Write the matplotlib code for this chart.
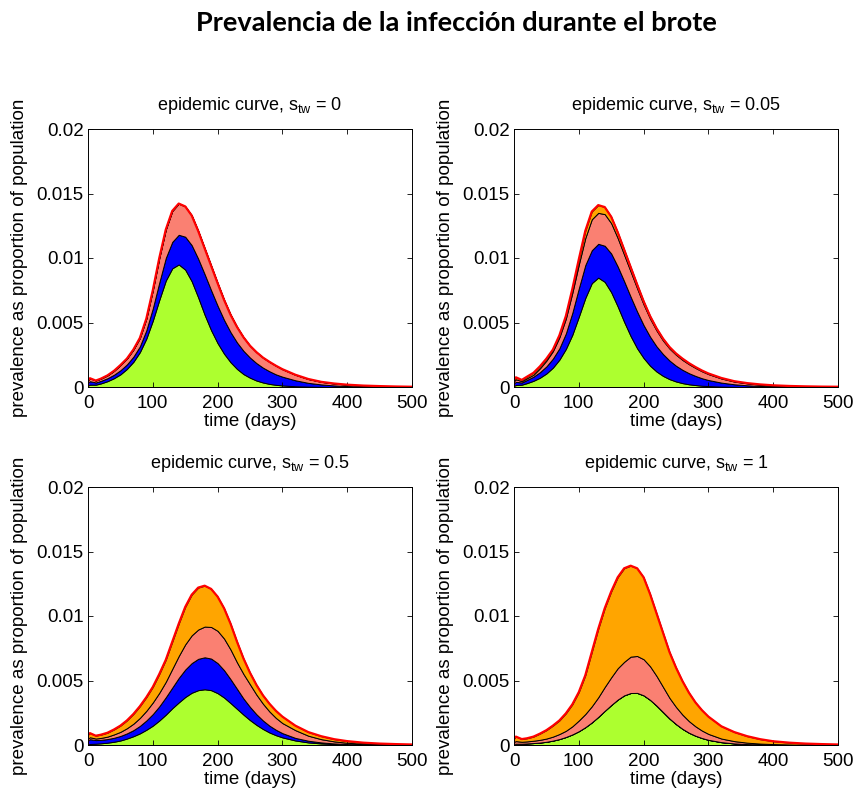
import numpy as np
import matplotlib
matplotlib.use('Agg')
from matplotlib import pyplot as plt

plt.rcParams['font.family'] = ['Liberation Sans', 'DejaVu Sans']
plt.rcParams['mathtext.default'] = 'regular'

# time axis (days)
t = [0, 3, 12, 20, 30, 40, 50, 60, 70, 80, 90, 100, 110, 120, 130, 140, 150, 160,
     170, 180, 190, 200, 210, 220, 230, 240, 250, 260, 270, 280, 290, 300, 320, 340,
     360, 380, 400, 425, 450, 475, 500]

# cumulative layer tops, s_tw = 0
green_0 = [0.00012, 0.00018, 0.00018, 0.00028, 0.00045, 0.00068, 0.00098, 0.00140, 0.00195, 0.00270,
           0.00375, 0.00515, 0.00675, 0.00825, 0.00920, 0.00950, 0.00910, 0.00820, 0.00695, 0.00560,
           0.00440, 0.00340, 0.00258, 0.00192, 0.00140, 0.00100, 0.00072, 0.00050, 0.00035, 0.00024,
           0.00017, 0.00012, 0.00006, 0.00003, 0.00001, 0.0, 0.0, 0.0, 0.0, 0.0, 0.0]
blue_0 = [0.00035, 0.00045, 0.00035, 0.00048, 0.00068, 0.00095, 0.00130, 0.00175, 0.00235, 0.00315,
          0.00440, 0.00610, 0.00810, 0.01000, 0.01125, 0.01180, 0.01165, 0.01100, 0.00995, 0.00875,
          0.00750, 0.00630, 0.00520, 0.00425, 0.00345, 0.00280, 0.00228, 0.00185, 0.00150, 0.00122,
          0.00098, 0.00080, 0.00052, 0.00032, 0.00020, 0.00012, 0.00007, 0.00004, 0.00002, 0.00001, 0.0]
salmon_0 = [0.00050, 0.00068, 0.00050, 0.00065, 0.00090, 0.00125, 0.00170, 0.00220, 0.00290, 0.00380,
            0.00530, 0.00750, 0.01000, 0.01220, 0.01365, 0.01422, 0.01400, 0.01330, 0.01210, 0.01075,
            0.00940, 0.00805, 0.00675, 0.00560, 0.00465, 0.00385, 0.00320, 0.00270, 0.00228, 0.00195,
            0.00165, 0.00138, 0.00095, 0.00062, 0.00040, 0.00027, 0.00018, 0.00011, 0.00007, 0.00004, 0.00002]
orange_0 = salmon_0

# s_tw = 0.05
green_1 = [0.00010, 0.00015, 0.00018, 0.00030, 0.00048, 0.00072, 0.00105, 0.00150, 0.00212, 0.00295,
           0.00405, 0.00545, 0.00690, 0.00805, 0.00848, 0.00815, 0.00735, 0.00625, 0.00505, 0.00395,
           0.00300, 0.00225, 0.00165, 0.00120, 0.00086, 0.00061, 0.00043, 0.00030, 0.00021, 0.00015,
           0.00010, 0.00007, 0.00003, 0.00001, 0.0, 0.0, 0.0, 0.0, 0.0, 0.0, 0.0]
blue_1 = [0.00030, 0.00040, 0.00035, 0.00055, 0.00080, 0.00115, 0.00160, 0.00220, 0.00300, 0.00415,
          0.00575, 0.00765, 0.00945, 0.01060, 0.01110, 0.01095, 0.01035, 0.00935, 0.00820, 0.00700,
          0.00585, 0.00480, 0.00390, 0.00315, 0.00255, 0.00205, 0.00165, 0.00133, 0.00107, 0.00086,
          0.00068, 0.00054, 0.00034, 0.00021, 0.00013, 0.00008, 0.00005, 0.00003, 0.00001, 0.0, 0.0]
salmon_1 = [0.00045, 0.00060, 0.00045, 0.00068, 0.00095, 0.00145, 0.00205, 0.00278, 0.00385, 0.00530,
            0.00730, 0.00950, 0.01155, 0.01300, 0.01350, 0.01340, 0.01270, 0.01155, 0.01025, 0.00895,
            0.00765, 0.00640, 0.00530, 0.00438, 0.00360, 0.00298, 0.00250, 0.00210, 0.00177, 0.00148,
            0.00122, 0.00100, 0.00066, 0.00042, 0.00028, 0.00018, 0.00012, 0.00007, 0.00004, 0.00002, 0.00001]
orange_1 = [0.00055, 0.00075, 0.00055, 0.00080, 0.00110, 0.00160, 0.00220, 0.00290, 0.00400, 0.00550,
            0.00760, 0.00990, 0.01210, 0.01360, 0.01410, 0.01395, 0.01320, 0.01200, 0.01065, 0.00930,
            0.00795, 0.00665, 0.00550, 0.00455, 0.00375, 0.00310, 0.00260, 0.00220, 0.00185, 0.00155,
            0.00128, 0.00105, 0.00070, 0.00045, 0.00030, 0.00020, 0.00013, 0.00008, 0.00005, 0.00003, 0.00002]

# s_tw = 0.5
green_2 = [0.00005, 0.00008, 0.00010, 0.00013, 0.00018, 0.00025, 0.00035, 0.00050, 0.00068, 0.00090,
           0.00118, 0.00150, 0.00190, 0.00235, 0.00285, 0.00330, 0.00372, 0.00405, 0.00425, 0.00432,
           0.00425, 0.00402, 0.00368, 0.00325, 0.00280, 0.00235, 0.00193, 0.00156, 0.00124, 0.00097,
           0.00076, 0.00059, 0.00035, 0.00020, 0.00012, 0.00007, 0.00004, 0.00002, 0.00001, 0.0, 0.0]
blue_2 = [0.00035, 0.00045, 0.00038, 0.00040, 0.00046, 0.00056, 0.00070, 0.00090, 0.00115, 0.00148,
          0.00190, 0.00240, 0.00300, 0.00370, 0.00445, 0.00520, 0.00585, 0.00635, 0.00668, 0.00680,
          0.00670, 0.00635, 0.00580, 0.00510, 0.00435, 0.00360, 0.00295, 0.00238, 0.00190, 0.00150,
          0.00118, 0.00092, 0.00055, 0.00033, 0.00020, 0.00012, 0.00007, 0.00004, 0.00002, 0.00001, 0.0]
salmon_2 = [0.00050, 0.00060, 0.00050, 0.00055, 0.00065, 0.00082, 0.00102, 0.00130, 0.00165, 0.00210,
            0.00265, 0.00330, 0.00405, 0.00490, 0.00590, 0.00690, 0.00780, 0.00850, 0.00895, 0.00918,
            0.00915, 0.00885, 0.00825, 0.00740, 0.00640, 0.00550, 0.00470, 0.00390, 0.00320, 0.00260,
            0.00210, 0.00170, 0.00115, 0.00072, 0.00045, 0.00028, 0.00017, 0.00010, 0.00005, 0.00003, 0.00001]
orange_2 = [0.00080, 0.00092, 0.00072, 0.00080, 0.00095, 0.00120, 0.00150, 0.00190, 0.00240, 0.00300,
            0.00370, 0.00450, 0.00550, 0.00660, 0.00800, 0.00940, 0.01070, 0.01165, 0.01220, 0.01235,
            0.01210, 0.01150, 0.01060, 0.00940, 0.00800, 0.00670, 0.00560, 0.00465, 0.00385, 0.00320,
            0.00265, 0.00220, 0.00150, 0.00100, 0.00068, 0.00045, 0.00030, 0.00018, 0.00011, 0.00007, 0.00004]

# s_tw = 1
green_3 = [0.00008, 0.00010, 0.00010, 0.00012, 0.00015, 0.00019, 0.00025, 0.00034, 0.00046, 0.00062,
           0.00082, 0.00107, 0.00138, 0.00175, 0.00218, 0.00265, 0.00310, 0.00352, 0.00385, 0.00403,
           0.00404, 0.00385, 0.00350, 0.00305, 0.00255, 0.00205, 0.00162, 0.00125, 0.00095, 0.00072,
           0.00054, 0.00040, 0.00022, 0.00012, 0.00007, 0.00004, 0.00002, 0.00001, 0.0, 0.0, 0.0]
blue_3 = green_3
salmon_3 = [0.00025, 0.00030, 0.00025, 0.00028, 0.00033, 0.00040, 0.00050, 0.00065, 0.00085, 0.00110,
            0.00145, 0.00190, 0.00240, 0.00300, 0.00370, 0.00450, 0.00525, 0.00595, 0.00645, 0.00685,
            0.00690, 0.00665, 0.00610, 0.00535, 0.00450, 0.00365, 0.00295, 0.00235, 0.00185, 0.00145,
            0.00112, 0.00086, 0.00050, 0.00030, 0.00018, 0.00011, 0.00007, 0.00004, 0.00002, 0.00001, 0.0]
orange_3 = [0.00050, 0.00065, 0.00046, 0.00052, 0.00065, 0.00088, 0.00115, 0.00150, 0.00190, 0.00245,
            0.00315, 0.00410, 0.00540, 0.00720, 0.00900, 0.01060, 0.01190, 0.01300, 0.01370, 0.01390,
            0.01370, 0.01300, 0.01170, 0.01020, 0.00870, 0.00720, 0.00600, 0.00495, 0.00405, 0.00330,
            0.00270, 0.00220, 0.00145, 0.00100, 0.00068, 0.00045, 0.00029, 0.00018, 0.00011, 0.00007, 0.00004]

s_values = ['0', '0.05', '0.5', '1']
panels = [
    (green_0, blue_0, salmon_0, orange_0),
    (green_1, blue_1, salmon_1, orange_1),
    (green_2, blue_2, salmon_2, orange_2),
    (green_3, blue_3, salmon_3, orange_3),
]
layer_colors = ['#adff2f', '#0000ff', '#fa8072', '#ffa500']

W, H = 858, 791
fig = plt.figure(figsize=(W / 100, H / 100), dpi=100)

# axes boxes in pixels: left, top, right, bottom
boxes = [(88, 129, 412, 387), (514, 129, 838, 387),
         (88, 487, 412, 745), (514, 487, 838, 745)]

for box, layers, s in zip(boxes, panels, s_values):
    l, tp, r, b = box
    ax = fig.add_axes([l / W, 1 - b / H, (r - l) / W, (b - tp) / H])
    lower = np.zeros(len(t))
    for top, col in zip(layers, layer_colors):
        top = np.asarray(top)
        ax.fill_between(t, lower, top, facecolor=col, edgecolor='k', linewidth=0.7)
        lower = top
    ax.plot([0] + t, [0] + list(layers[-1]), color='r', linewidth=1.6)

    ax.set_xlim(0, 500)
    ax.set_ylim(0, 0.02)
    ax.set_xticks([0, 100, 200, 300, 400, 500])
    ax.set_yticks([0, 0.005, 0.01, 0.015, 0.02])
    ax.set_yticklabels(['0', '0.005', '0.01', '0.015', '0.02'])
    ax.tick_params(direction='in', top=True, right=True, length=3.5, width=0.6,
                   labelsize=13.5)
    ax.tick_params(axis='x', pad=5.5)
    ax.tick_params(axis='y', pad=3)
    for sp in ax.spines.values():
        sp.set_linewidth(0.7)
    ax.set_xlabel('time (days)', fontsize=13.5, labelpad=1)
    ax.set_ylabel('prevalence as proportion of population', fontsize=13.5, labelpad=6)
    ax.set_title('epidemic curve, s$_{tw}$ = ' + s, fontsize=13, pad=14)

fig.text(456 / W, 1 - 23 / H, 'Prevalencia de la infección durante el brote',
         ha='center', va='center', fontsize=19.5, fontweight='bold', family=['Lato', 'DejaVu Sans'])

fig.savefig('out.png', dpi=100)
